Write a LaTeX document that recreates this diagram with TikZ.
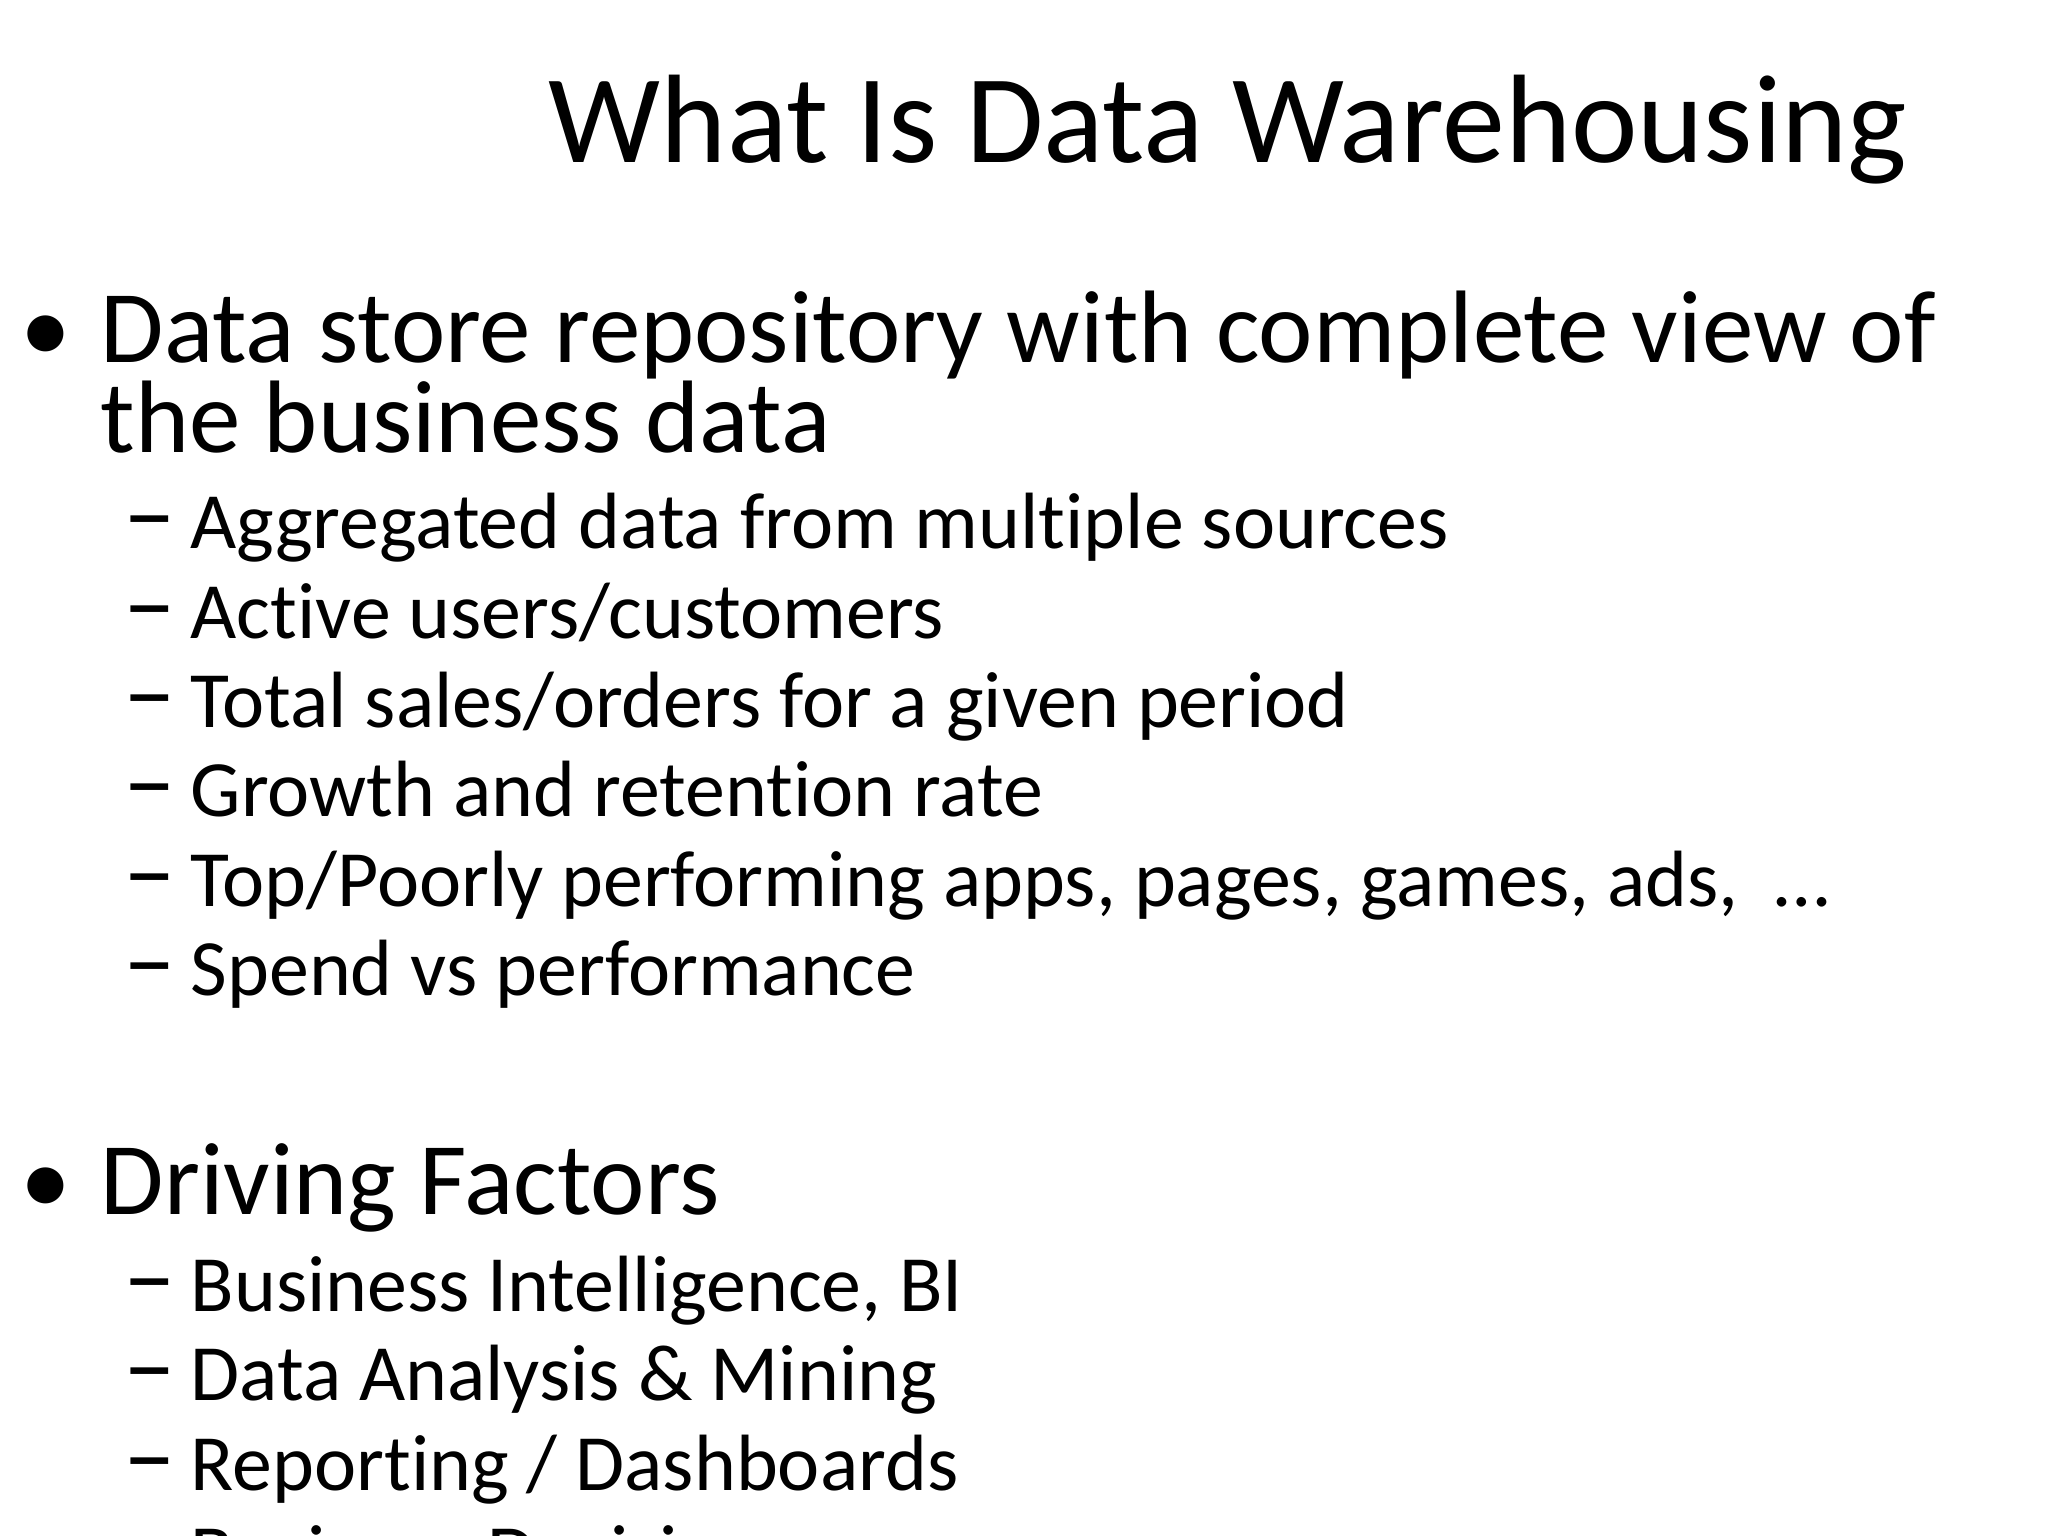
\documentclass[tikz,border=0pt]{standalone}
\usepackage{fontspec}
\setmainfont[Ligatures=NoCommon]{Carlito}
\begin{document}
\begin{tikzpicture}[x=0.01cm,y=-0.01cm,
  ttl/.style={anchor=base east,inner sep=0,font=\fontsize{35.8}{40}\selectfont},
  lvl/.style={anchor=base west,inner sep=0,font=\fontsize{29.3}{30}\selectfont},
  dot/.style={anchor=base west,inner sep=0,font=\fontsize{29}{30}\selectfont},
  dsh/.style={anchor=base west,inner sep=0,font=\fontsize{30}{30}\selectfont},
  sub/.style={anchor=base west,inner sep=0,font=\fontsize{22.7}{26}\selectfont}]
\useasboundingbox[clip] (0,0) rectangle (2048,1536);
\node[ttl] (title) at (1908,162) {What Is Data Warehousing};
\node[dot] (b1) at (20,362) {•};
\node[lvl] (t1) at (100,362) {Data store repository with complete view of};
\node[lvl] (t1b) at (100,452) {the business data};
\foreach \y/\t [count=\i] in {548/{Aggregated data from multiple sources},638/{Active users/customers},727/{Total sales/orders for a given period},816/{Growth and retention rate},906/{Top/Poorly performing apps, pages, games, ads,\ \ …},995/{Spend vs performance}}{
  \node[dsh] (da\i) at (123,\y) {–};
  \node[sub] (sa\i) at (190,\y) {\t};
}
\node[dot] (b2) at (20,1214) {•};
\node[lvl] (t2) at (100,1214) {Driving Factors};
\foreach \y/\t [count=\i] in {1311/{Business Intelligence, BI},1400/{Data Analysis \& Mining},1490/{Reporting / Dashboards},1580/{Business Decisions}}{
  \node[dsh] (db\i) at (123,\y) {–};
  \node[sub] (sb\i) at (190,\y) {\t};
}
\end{tikzpicture}
\end{document}
